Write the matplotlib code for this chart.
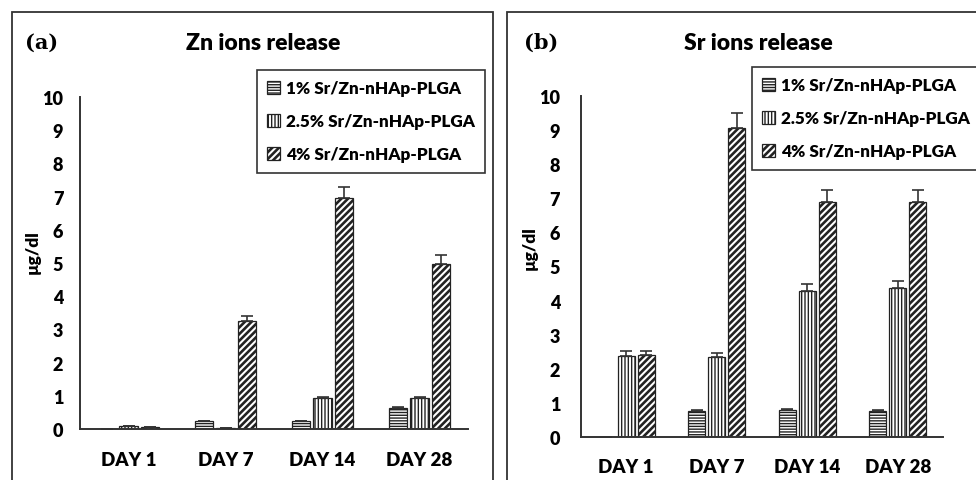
import matplotlib.pyplot as plt
from matplotlib.patches import Rectangle
import numpy as np

plt.rcParams['font.family'] = ['Lato', 'DejaVu Sans']
plt.rcParams['font.weight'] = 'heavy'
plt.rcParams['hatch.linewidth'] = 1.1
plt.rcParams['hatch.color'] = '#222222'

days = ["DAY 1", "DAY 7", "DAY 14", "DAY 28"]
groups = ["1% Sr/Zn-nHAp-PLGA", "2.5% Sr/Zn-nHAp-PLGA", "4% Sr/Zn-nHAp-PLGA"]
hatches = ["------", "|||||", "/////"]
hatch_lw = [1.0, 1.0, 1.9]

# Zn ions release (ug/dl)
zn_1 = [0.01, 0.23, 0.23, 0.63]
zn_25 = [0.08, 0.02, 0.93, 0.93]
zn_4 = [0.05, 3.25, 6.95, 4.97]
zn_1_err = [0.0, 0.02, 0.02, 0.02]
zn_25_err = [0.01, 0.0, 0.03, 0.03]
zn_4_err = [0.0, 0.15, 0.33, 0.26]

# Sr ions release (ug/dl)
sr_1 = [0.01, 0.76, 0.79, 0.77]
sr_25 = [2.38, 2.36, 4.28, 4.36]
sr_4 = [2.41, 9.07, 6.88, 6.90]
sr_1_err = [0.0, 0.03, 0.02, 0.02]
sr_25_err = [0.13, 0.10, 0.20, 0.21]
sr_4_err = [0.12, 0.44, 0.35, 0.35]

fig = plt.figure(figsize=(9.76, 4.81), dpi=100)

# panel frames
for x0, x1 in [(12, 493), (507, 990)]:
    fig.add_artist(Rectangle((x0 / 976, -0.02), (x1 - x0) / 976, 1.02 - 13 / 481,
                             transform=fig.transFigure, fill=False,
                             edgecolor='#333333', linewidth=1.3))


def draw_panel(rect, series, errs, letter, title, lx, ly, tlet, ttl, ylab_x, ylab_y, ypad, xpad):
    ax = fig.add_axes(rect)
    x = np.arange(len(days))
    offsets = [-0.22, 0, 0.22]
    for vals, err, off, h, hl, lab in zip(series, errs, offsets, hatches, hatch_lw, groups):
        bars = ax.bar(x + off, vals, 0.19, color='white', edgecolor='#222222',
                      linewidth=0.9, hatch=h, label=lab)
        for p in bars:
            if hasattr(p, 'set_hatch_linewidth'):
                p.set_hatch_linewidth(hl)
        ax.errorbar(x + off, vals, yerr=[np.zeros(len(err)), err], fmt='none',
                    ecolor='#333333', elinewidth=1.2, capsize=4, capthick=1.2)
    ax.set_xlim(-0.5, 3.5)
    ax.set_ylim(0, 10)
    ax.set_yticks(range(0, 11))
    ax.set_xticks(x)
    ax.set_xticklabels(days)
    ax.tick_params(axis='y', length=0, pad=ypad, labelsize=13)
    ax.tick_params(axis='x', length=0, pad=xpad, labelsize=13.5)
    for s in ['top', 'right']:
        ax.spines[s].set_visible(False)
    for s in ['left', 'bottom']:
        ax.spines[s].set_color('#333333')
        ax.spines[s].set_linewidth(1.4)
    leg = ax.legend(loc='upper left', bbox_to_anchor=(lx / 976, 1 - ly / 481),
                    bbox_transform=fig.transFigure, borderaxespad=0,
                    fancybox=False, edgecolor='#333333', framealpha=1,
                    fontsize=12.3, handlelength=0.75, handleheight=0.75,
                    handletextpad=0.35, labelspacing=1.0, borderpad=0.6)
    leg.get_frame().set_linewidth(1.2)
    for p, hl in zip(leg.legend_handles, hatch_lw):
        if hasattr(p, 'set_hatch_linewidth'):
            p.set_hatch_linewidth(hl)
    fig.text(tlet / 976, 1 - 43 / 481, letter, family='DejaVu Serif',
             fontweight='bold', fontsize=15, ha='center', va='center')
    fig.text(ttl / 976, 1 - 43 / 481, title, fontsize=16.5,
             ha='center', va='center')
    fig.text(ylab_x / 976, 1 - ylab_y / 481, "µg/dl", rotation=90,
             fontsize=12.5, ha='center', va='center')
    return ax


draw_panel([80 / 976, 1 - 430 / 481, 388 / 976, 332 / 481],
           [zn_1, zn_25, zn_4], [zn_1_err, zn_25_err, zn_4_err],
           "(a)", "Zn ions release", 257, 71, 42, 263, 33, 252, 12, 16)
draw_panel([581 / 976, 1 - 438 / 481, 362 / 976, 341 / 481],
           [sr_1, sr_25, sr_4], [sr_1_err, sr_25_err, sr_4_err],
           "(b)", "Sr ions release", 752, 68, 541, 758, 530, 248, 15, 15)

plt.savefig('out.png', dpi=100)
plt.close()
